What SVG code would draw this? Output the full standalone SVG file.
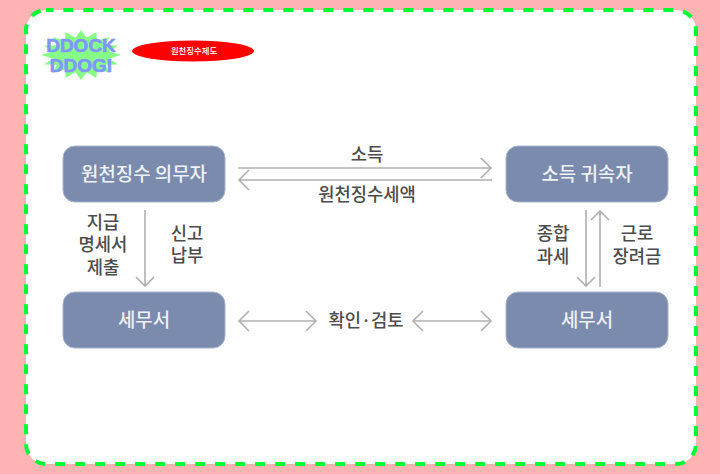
<svg xmlns="http://www.w3.org/2000/svg" width="720" height="474" viewBox="0 0 720 474">
<style>
.t{font-family:"Noto Sans CJK KR","Noto Sans",sans-serif;text-anchor:middle}
.n{fill:#7a8bae;stroke:#a9b5cc;stroke-width:1}
.w{fill:#eef1f6;font-size:18.9px;font-weight:500}
.d{fill:#4c4c4c;font-size:17.700px;font-weight:500}
.c{fill:none;stroke:#b0b0b0;stroke-width:1.6}
.l{font-family:"Liberation Sans",sans-serif;text-anchor:middle;font-size:19px;font-weight:700;fill:#8296ff;stroke:#8296ff;stroke-width:0.6}
</style>
<rect width="720" height="474" fill="#ffb3b3"/>
<rect x="26" y="10" width="670" height="454" rx="20" fill="#fff" stroke="#00ff33" stroke-width="4" stroke-dasharray="10 10" stroke-dashoffset="2.7"/>
<g id="logo">
<polygon points="121,55 109.400,51.600 118,45.400 105.100,45.300 109.300,37.300 97.100,40.500 96.300,31.900 86.700,37.800 81,30 75.300,37.800 65.700,31.900 64.900,40.500 52.700,37.300 56.900,45.300 44,45.400 52.600,51.600 41,55 52.600,58.400 44,64.600 56.900,64.700 52.700,72.700 64.900,69.500 65.700,78.100 75.300,72.200 81,80 86.700,72.200 96.300,78.100 97.100,69.500 109.300,72.700 105.100,64.700 118,64.600 109.400,58.400" fill="#86ff86"/>
<text class="l" x="81" y="52">DDOCK</text>
<text class="l" x="81" y="72">DDOGI</text>
</g>
<g id="title">
<ellipse cx="193" cy="51" rx="61" ry="10.500" fill="#ff0000"/>
<text class="t" x="194" y="54" font-size="8.400" font-weight="500" fill="#fff">원천징수제도</text>
</g>
<g id="n1"><rect class="n" x="63" y="146" width="162" height="56" rx="12"/><text class="t w" x="144" y="181">원천징수 의무자</text></g>
<g id="n2"><rect class="n" x="506" y="146" width="162" height="56" rx="12"/><text class="t w" x="587" y="181">소득 귀속자</text></g>
<g id="n3"><rect class="n" x="63" y="292" width="162" height="56" rx="12"/><text class="t w" x="144" y="327">세무서</text></g>
<g id="n4"><rect class="n" x="506" y="292" width="162" height="56" rx="12"/><text class="t w" x="587" y="327">세무서</text></g>
<g id="connectors">
<path class="c" d="M238 168H491M481 158L491 168L481 178"/>
<path class="c" d="M492 180H239M249 170L239 180L249 190"/>
<path class="c" d="M145 210V286M136 277L145 286L154 277"/>
<path class="c" d="M586 210V286M577 277L586 286L595 277"/>
<path class="c" d="M600 287V211M591 220L600 211L609 220"/>
<path class="c" d="M239 321H316M249 311L239 321L249 331M306 311L316 321L306 331"/>
<path class="c" d="M413 321H491M423 311L413 321L423 331M481 311L491 321L481 331"/>
</g>
<g id="labels">
<text class="t d" x="367" y="161">소득</text>
<text class="t d" x="367" y="201">원천징수세액</text>
<text class="t d"><tspan x="103" y="229">지급</tspan><tspan x="103" y="251">명세서</tspan><tspan x="103" y="274">제출</tspan></text>
<text class="t d"><tspan x="187" y="240">신고</tspan><tspan x="187" y="262">납부</tspan></text>
<text class="t d"><tspan x="553" y="240">종합</tspan><tspan x="553" y="263">과세</tspan></text>
<text class="t d"><tspan x="637" y="240">근로</tspan><tspan x="637" y="263">장려금</tspan></text>
<text class="t d" x="366" y="327">확인·검토</text>
</g>
</svg>
